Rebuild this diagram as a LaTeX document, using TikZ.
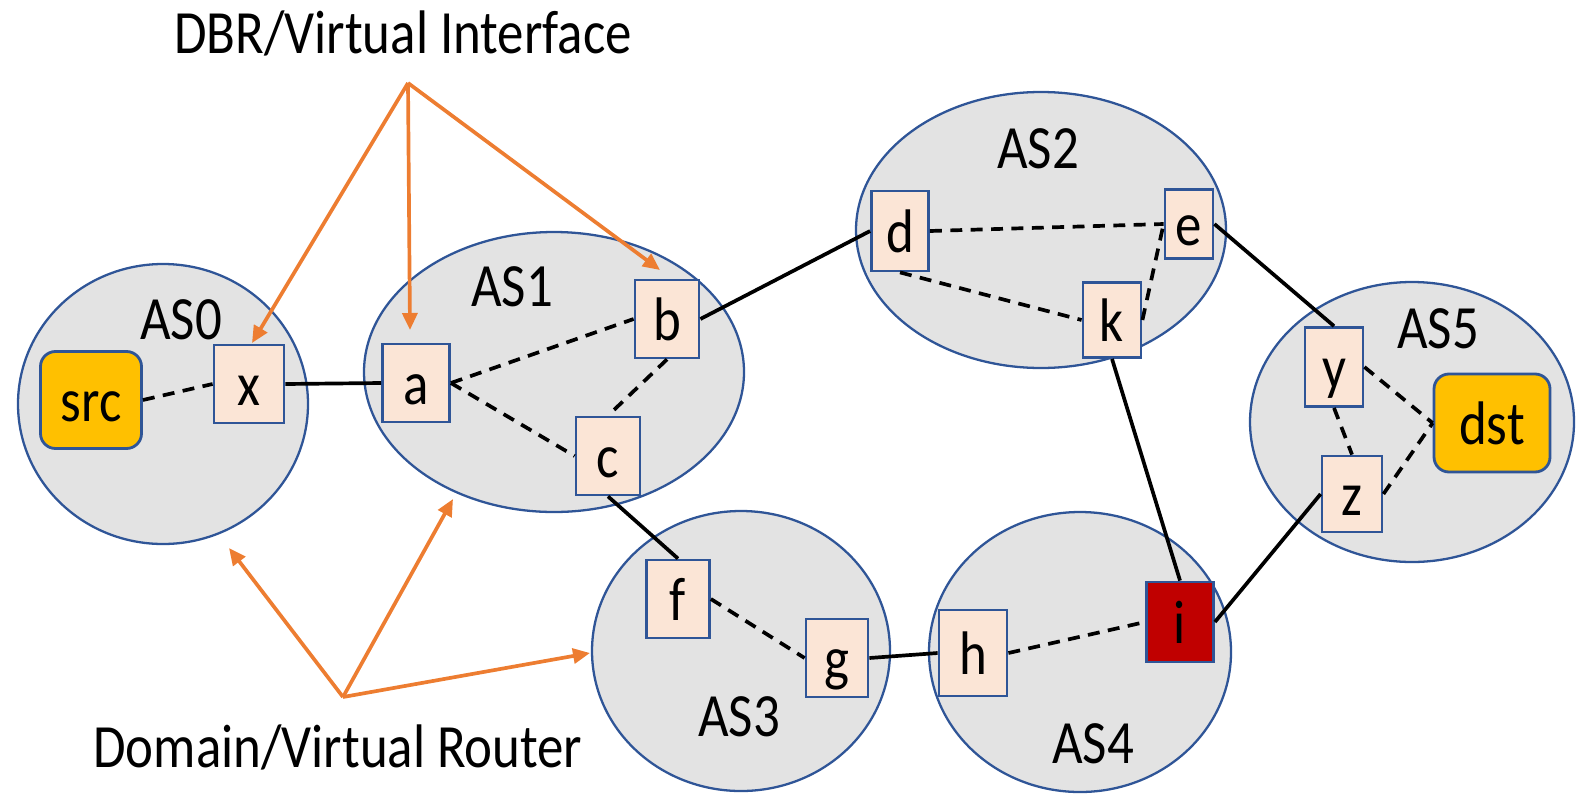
\documentclass[tikz,border=0pt]{standalone}
\usepackage{fontspec}
\setmainfont{Carlito}[FakeStretch=0.86]
\usetikzlibrary{shapes.geometric, arrows.meta}
\definecolor{asblue}{RGB}{47,85,151}
\definecolor{asgray}{RGB}{227,227,227}
\definecolor{routerfill}{RGB}{251,229,214}
\definecolor{hostfill}{RGB}{255,192,0}
\definecolor{hotred}{RGB}{192,0,0}
\definecolor{pointerorange}{RGB}{237,125,49}

\begin{document}
\begin{tikzpicture}[line width = 1.05pt,
                    font = \fontsize{17.5}{21}\selectfont,
                    dashed/.style = {dash pattern = on 3.4pt off 2.4pt},
                    asbubble/.style = {ellipse, draw = asblue, fill = asgray, line width = 0.65pt, inner sep = 0pt},
                    router/.style = {rectangle, draw = asblue, fill = routerfill, line width = 0.8pt, inner sep = 0pt,
                                     minimum width = 0.64cm, minimum height = 0.78cm, text height = 0.42cm, text depth = 0cm},
                    host/.style = {router, rounded corners = 0.15cm, fill = hostfill, minimum width = 1.01cm, minimum height = 0.97cm},
                    pointer/.style = {draw = pointerorange, line width = 1.05pt, -{Triangle[length = 0.17cm, width = 0.15cm]}}]
  \useasboundingbox (0,0) rectangle (15.80,7.93);

  \node [asbubble, minimum width = 2.90cm, minimum height = 2.80cm] (AS0) at (1.63,3.89) {};
  \node [asbubble, minimum width = 3.80cm, minimum height = 2.80cm] (AS1) at (5.54,4.21) {};
  \node [asbubble, minimum width = 3.70cm, minimum height = 2.76cm] (AS2) at (10.41,5.63) {};
  \node [asbubble, minimum width = 2.98cm, minimum height = 2.80cm] (AS3) at (7.41,1.42) {};
  \node [asbubble, minimum width = 3.02cm, minimum height = 2.80cm] (AS4) at (10.80,1.41) {};
  \node [asbubble, minimum width = 3.24cm, minimum height = 2.80cm] (AS5) at (14.12,3.71) {};

  \node (L0) at (1.81,4.73) {AS0};
  \node (L1) at (5.12,5.06) {AS1};
  \node (L2) at (10.38,6.44) {AS2};
  \node (L3) at (7.39,0.76) {AS3};
  \node (L4) at (10.93,0.49) {AS4};
  \node (L5) at (14.38,4.64) {AS5};

  \node [host] (Hsrc) at (0.91,3.93) {src};
  \node [host, minimum width = 1.16cm, minimum height = 0.98cm] (Hdst) at (14.92,3.70) {dst};
  \node [router, minimum width = 0.70cm] (Rx) at (2.49,4.09) {x};
  \node [router, minimum width = 0.67cm] (Ra) at (4.16,4.10) {a};
  \node [router] (Rb) at (6.67,4.74) {b};
  \node [router] (Rc) at (6.08,3.37) {c};
  \node [router, minimum width = 0.57cm, minimum height = 0.80cm] (Rd) at (9.00,5.62) {d};
  \node [router, minimum width = 0.48cm, minimum height = 0.69cm] (Re) at (11.89,5.69) {e};
  \node [router, minimum width = 0.58cm, minimum height = 0.75cm] (Rk) at (11.12,4.73) {k};
  \node [router, minimum width = 0.63cm] (Rf) at (6.78,1.94) {f};
  \node [router, minimum width = 0.62cm] (Rg) at (8.37,1.35) {g};
  \node [router, minimum width = 0.68cm, minimum height = 0.86cm] (Rh) at (9.73,1.40) {h};
  \node [router, fill = hotred, minimum width = 0.67cm, minimum height = 0.80cm] (Ri) at (11.80,1.71) {i};
  \node [router, minimum width = 0.58cm, minimum height = 0.79cm] (Ry) at (13.34,4.26) {y};
  \node [router, minimum width = 0.60cm, minimum height = 0.76cm] (Rz) at (13.52,2.99) {z};

  \draw [dashed] (Hsrc.east) -- (Rx.west);
  \draw (Rx.east) -- (Ra.west);
  \draw [dashed] (Ra.east) -- (Rb.west);
  \draw [dashed] (Ra.east) -- (Rc.west);
  \draw [dashed] (Rb.south) -- (Rc.north);
  \draw (Rb.east) -- (Rd.west);
  \draw (Rc.south) -- (Rf.north);
  \draw [dashed] (Rd.east) -- (Re.west);
  \draw [dashed] (Rd.south) -- (Rk.west);
  \draw [dashed] (Rk.east) -- (Re.west);
  \draw (Re.east) -- (Ry.north);
  \draw (Rk.south) -- (Ri.north);
  \draw (Ri.east) -- (Rz.west);
  \draw [dashed] (Ry.east) -- (Hdst.west);
  \draw [dashed] (Ry.south) -- (Rz.north);
  \draw [dashed] (Rz.east) -- (Hdst.west);
  \draw [dashed] (Rf.east) -- (Rg.west);
  \draw (Rg.east) -- (Rh.west);
  \draw [dashed] (Rh.east) -- (Ri.west);

  % callouts
  \node [anchor = base] (dbr) at (4.03,7.40) {DBR/Virtual Interface};
  \node [anchor = base] (vr) at (3.38,0.26) {Domain/Virtual Router};
  \coordinate (dbrfoot) at (4.08,7.10);
  \coordinate (vrfoot) at (3.43,0.96);
  \coordinate (tipx) at (2.52,4.50);
  \coordinate (tipa) at (4.10,4.63);
  \coordinate (tipb) at (6.60,5.23);
  \coordinate (tip0) at (2.29,2.45);
  \coordinate (tip1) at (4.53,2.94);
  \coordinate (tip3) at (5.90,1.40);
  \draw [pointer] (dbrfoot) -- (tipx);
  \draw [pointer] (dbrfoot) -- (tipa);
  \draw [pointer] (dbrfoot) -- (tipb);
  \draw [pointer] (vrfoot) -- (tip0);
  \draw [pointer] (vrfoot) -- (tip1);
  \draw [pointer] (vrfoot) -- (tip3);
\end{tikzpicture}
\end{document}
